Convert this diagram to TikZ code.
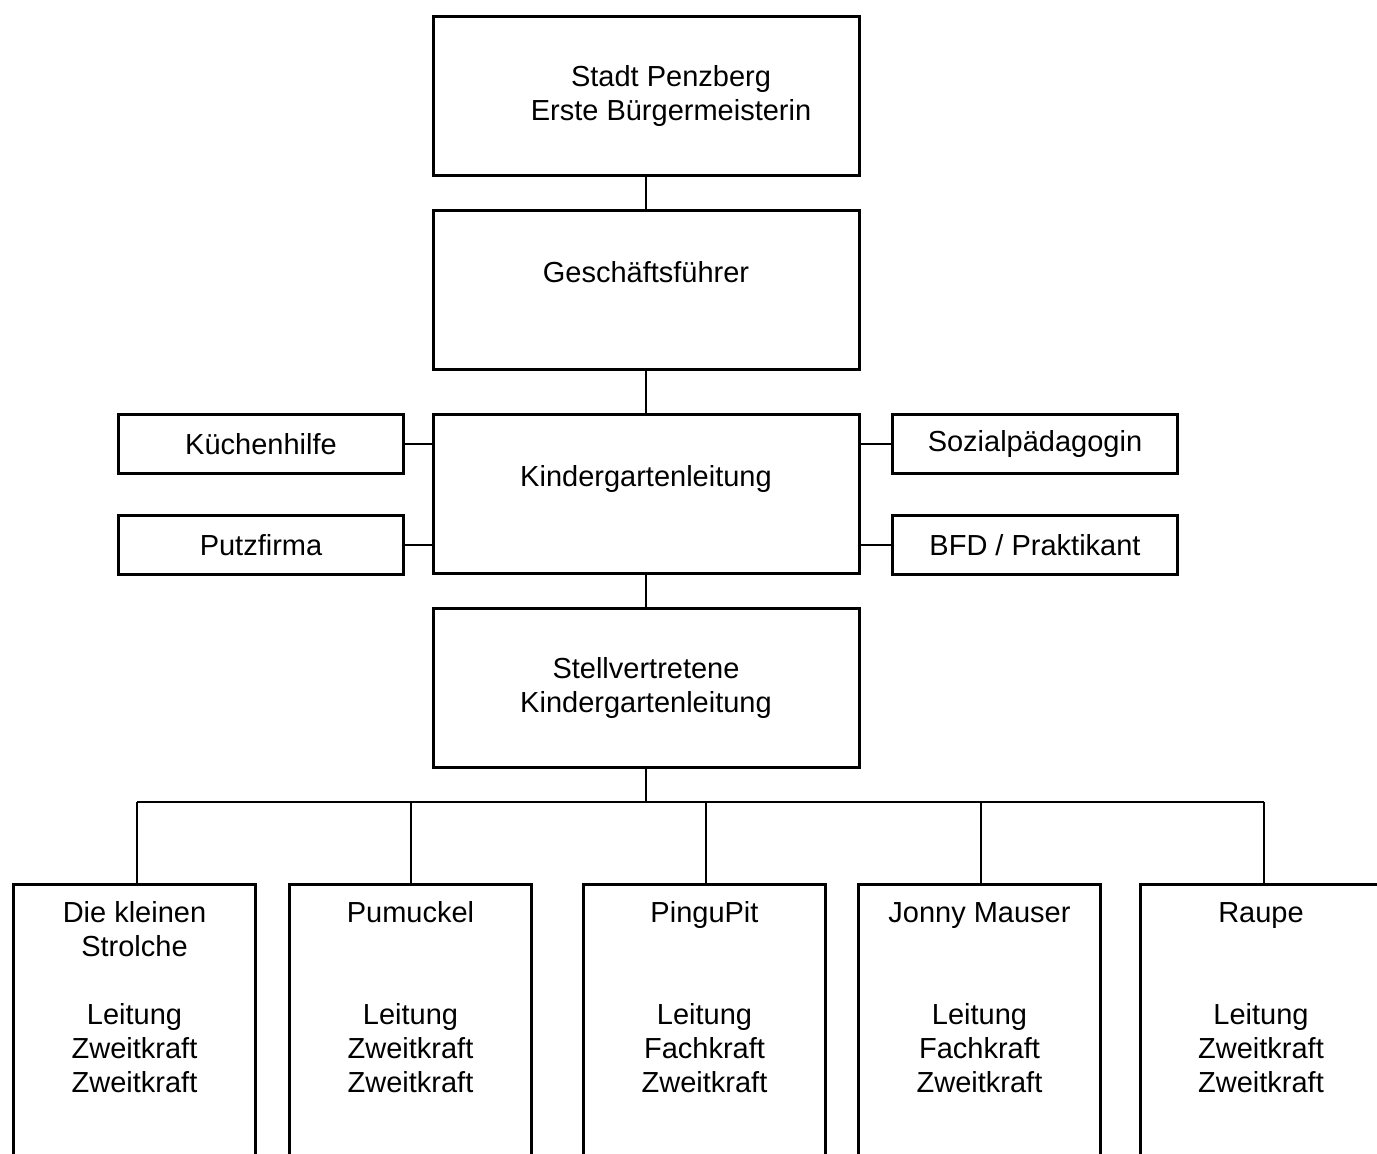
\documentclass[tikz,border=0pt]{standalone}
\usepackage{fontspec}
\setmainfont{Liberation Sans}
\tikzset{
    bigbox/.style={minimum width=213pt,minimum height=79.5pt},
    sidebox/.style={minimum width=142.5pt,minimum height=29.5pt},
    groupbox/.style={anchor=north,minimum width=121pt,inner ysep=7.2pt,text depth=300pt}
}
\begin{document}
\begin{tikzpicture}[x=0.5pt,y=-0.5pt,line width=0.8pt]
        \useasboundingbox (0,0) rectangle (1377,1153);
        \clip (0,0) rectangle (1377,1153);
        \begin{scope}[every node/.style={rectangle,draw,line width=1.5pt,align=center,
                        font=\fontsize{14.5}{17}\selectfont}]
            \node (A) at (646,96) [bigbox]
                {\hspace*{25pt}Stadt Penzberg\\\hspace*{25pt}Erste Bürgermeisterin};
            \node (B) at (646,290) [bigbox] {Geschäftsführer\\[-4pt]\strut};
            \node (C) at (646,494) [bigbox] {Kindergartenleitung\\[-4pt]\strut};
            \node (D) at (261,444) [sidebox] {Küchenhilfe};
            \node (E) at (261,545) [sidebox] {Putzfirma};
            \node (F) at (1035,444) [sidebox] {Sozialpädagogin};
            \node (G) at (1035,545) [sidebox] {BFD / Praktikant};
            \node (H) at (646,688) [bigbox] {Stellvertretene\\Kindergartenleitung};
            \node (I) at (134.5,882.5) [groupbox]
                {\strut Die kleinen\\Strolche\\[17pt]Leitung\\Zweitkraft\\Zweitkraft};
            \node (J) at (410.5,882.5) [groupbox]
                {\strut Pumuckel\\[34pt]Leitung\\Zweitkraft\\Zweitkraft};
            \node (K) at (704.5,882.5) [groupbox]
                {\strut PinguPit\\[34pt]Leitung\\Fachkraft\\Zweitkraft};
            \node (L) at (979.5,882.5) [groupbox]
                {\strut Jonny Mauser\\[34pt]Leitung\\Fachkraft\\Zweitkraft};
            \node (M) at (1261,882.5) [groupbox]
                {\strut Raupe\\[34pt]Leitung\\Zweitkraft\\Zweitkraft};
        \end{scope}

        \coordinate (bus) at (646,802);
        \coordinate (b1) at (137,802);
        \coordinate (b2) at (411,802);
        \coordinate (b3) at (706,802);
        \coordinate (b4) at (981,802);
        \coordinate (b5) at (1264,802);

        \draw (A) -- (B);
        \draw (B) -- (C);
        \draw (C) -- (H);
        \draw (D.east) -- (D.east -| C.west);
        \draw (E.east) -- (E.east -| C.west);
        \draw (F.west) -- (F.west -| C.east);
        \draw (G.west) -- (G.west -| C.east);
        \draw (H) -- (bus);
        \draw (b1) -- (b5);
        \draw (b1) -- (b1 |- I.north);
        \draw (b2) -- (b2 |- J.north);
        \draw (b3) -- (b3 |- K.north);
        \draw (b4) -- (b4 |- L.north);
        \draw (b5) -- (b5 |- M.north);
    \end{tikzpicture}
\end{document}
